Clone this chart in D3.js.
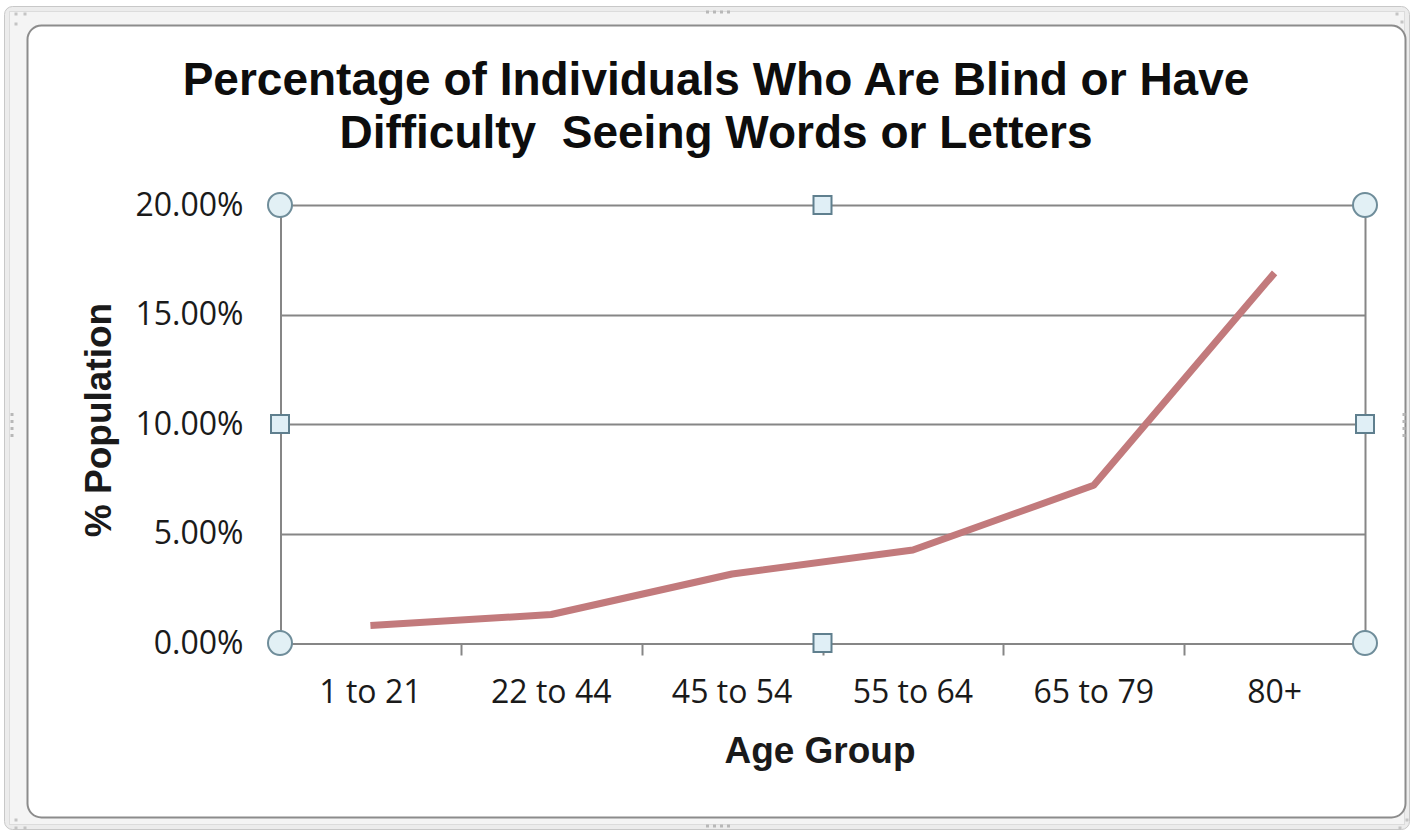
<!DOCTYPE html>
<html>
<head>
<meta charset="utf-8">
<script src="https://cdn.jsdelivr.net/npm/d3@7"></script>
<style>
  html, body { margin: 0; padding: 0; background: #ffffff; }
  svg { display: block; }
</style>
</head>
<body>
<svg id="chart" width="1413" height="834"></svg>
<script>
// Age groups and share of population that is blind or has difficulty seeing
const categories = ["1 to 21", "22 to 44", "45 to 54", "55 to 64", "65 to 79", "80+"];
const values = [0.008, 0.013, 0.0315, 0.0425, 0.072, 0.169];
const yTicks = [0, 0.05, 0.10, 0.15, 0.20];
const titleLines = ["Percentage of Individuals Who Are Blind or Have", "Difficulty  Seeing Words or Letters"];
const xTitle = "Age Group";
const yTitle = "% Population";

const W = 1413, H = 834;
const plot = { left: 280, right: 1365, top: 205, bottom: 643 };

const svg = d3.select("#chart");

// Outer object frame (selection border around the chart object)
svg.append("rect")
  .attr("x", 4.5).attr("y", 6.5).attr("width", W - 8).attr("height", H - 11)
  .attr("rx", 8)
  .attr("fill", "#ececec").attr("stroke", "#c8c8c8").attr("stroke-width", 1);
svg.append("rect")
  .attr("x", 9.5).attr("y", 11.5).attr("width", W - 18).attr("height", H - 21)
  .attr("fill", "#f4f4f4").attr("stroke", "#dcdcdc").attr("stroke-width", 1);

// Chart area with rounded border
svg.append("rect")
  .attr("x", 27.5).attr("y", 25.5).attr("width", 1378).attr("height", 792)
  .attr("rx", 14)
  .attr("fill", "#ffffff").attr("stroke", "#8c8c8c").attr("stroke-width", 2);

// Grip dots on the outer frame
function grip(cx, cy, horizontal) {
  const g = svg.append("g").attr("fill", "#b8b8b8");
  for (let i = 0; i < 4; i++) {
    g.append("rect")
      .attr("x", horizontal ? cx - 12 + i * 7 : cx - 1.5)
      .attr("y", horizontal ? cy - 1.5 : cy - 12 + i * 7)
      .attr("width", 3).attr("height", 3);
  }
}
grip(718, 12, true);
grip(718, 826, true);
grip(12, 425, false);
grip(1404, 425, false);
[[16, 14], [16, 24], [25, 14], [16, 820], [16, 828], [25, 828], [1397, 14], [1402, 22], [1400, 828], [1407, 820]]
  .forEach(([x, y]) => svg.append("rect").attr("x", x - 1.5).attr("y", y - 1.5)
    .attr("width", 3).attr("height", 3).attr("fill", "#c4c4c4"));

// Scales
const x = d3.scaleBand().domain(categories).range([plot.left, plot.right]).padding(0);
const y = d3.scaleLinear().domain([0, 0.20]).range([plot.bottom, plot.top]);

// Horizontal gridlines
svg.append("g")
  .selectAll("line")
  .data(yTicks.slice(1))
  .join("line")
  .attr("x1", plot.left).attr("x2", plot.right)
  .attr("y1", d => Math.round(y(d)) + 0.5).attr("y2", d => Math.round(y(d)) + 0.5)
  .attr("stroke", "#868686").attr("stroke-width", 2);

// Right edge of plot area
svg.append("line")
  .attr("x1", plot.right + 0.5).attr("x2", plot.right + 0.5)
  .attr("y1", plot.top).attr("y2", plot.bottom)
  .attr("stroke", "#868686").attr("stroke-width", 2);

const labelFont = "'Open Sans', 'Noto Sans', sans-serif";

// Y axis
const yAxis = d3.axisLeft(y)
  .tickValues(yTicks)
  .tickFormat(d3.format(".2%"))
  .tickSize(0)
  .tickPadding(37);
const yg = svg.append("g")
  .attr("transform", `translate(${plot.left + 0.5},0)`)
  .call(yAxis);
yg.select(".domain").attr("stroke", "#868686").attr("stroke-width", 2);
yg.selectAll("text")
  .attr("font-family", labelFont)
  .attr("font-size", 32)
  .attr("fill", "#1a1a1a");

// X axis with tick marks between categories
const xAxis = d3.axisBottom(x).tickSize(0).tickPadding(37);
const xg = svg.append("g")
  .attr("transform", `translate(0,${plot.bottom + 0.5})`)
  .call(xAxis);
xg.select(".domain").attr("stroke", "#868686").attr("stroke-width", 2);
xg.selectAll("text")
  .attr("font-family", labelFont)
  .attr("font-size", 32)
  .attr("fill", "#1a1a1a");
xg.selectAll(".tick line").remove();
xg.append("g")
  .selectAll("line")
  .data(categories.slice(1))
  .join("line")
  .attr("x1", d => Math.round(x(d)) + 0.5).attr("x2", d => Math.round(x(d)) + 0.5)
  .attr("y1", 0).attr("y2", 12)
  .attr("stroke", "#868686").attr("stroke-width", 2);

// Data line
const line = d3.line()
  .x(d => x(d.cat) + x.bandwidth() / 2)
  .y(d => y(d.val));
svg.append("path")
  .datum(categories.map((c, i) => ({ cat: c, val: values[i] })))
  .attr("d", line)
  .attr("fill", "none")
  .attr("stroke", "#c27a7c")
  .attr("stroke-width", 7)
  .attr("stroke-linejoin", "round");

// Plot-area selection handles
const midX = (plot.left + plot.right) / 2;
const midY = (plot.top + plot.bottom) / 2;
[[plot.left, plot.top], [plot.right, plot.top], [plot.left, plot.bottom], [plot.right, plot.bottom]]
  .forEach(([cx, cy]) => svg.append("circle")
    .attr("cx", cx).attr("cy", cy).attr("r", 12)
    .attr("fill", "#e2f0f5").attr("stroke", "#6f8d9a").attr("stroke-width", 2));
[[midX, plot.top], [midX, plot.bottom], [plot.left, midY], [plot.right, midY]]
  .forEach(([cx, cy]) => svg.append("rect")
    .attr("x", cx - 9).attr("y", cy - 9).attr("width", 18).attr("height", 18)
    .attr("fill", "#e0eff6").attr("stroke", "#5f7f8e").attr("stroke-width", 2));

// Title
const title = svg.append("text")
  .attr("text-anchor", "middle")
  .attr("font-family", "'Liberation Sans', Arial, sans-serif")
  .attr("font-weight", "bold")
  .attr("font-size", 46)
  .attr("fill", "#0d0d0d");
titleLines.forEach((t, i) => title.append("tspan")
  .attr("x", 716).attr("y", 95 + i * 53)
  .attr("xml:space", "preserve")
  .style("white-space", "pre")
  .text(t));

// Axis titles
svg.append("text")
  .attr("x", 820).attr("y", 763)
  .attr("text-anchor", "middle")
  .attr("font-family", "'Liberation Sans', Arial, sans-serif")
  .attr("font-weight", "bold")
  .attr("font-size", 37)
  .attr("fill", "#1a1a1a")
  .text(xTitle);

svg.append("text")
  .attr("transform", `translate(111,420) rotate(-90)`)
  .attr("text-anchor", "middle")
  .attr("font-family", "'Liberation Sans', Arial, sans-serif")
  .attr("font-weight", "bold")
  .attr("font-size", 37)
  .attr("fill", "#1a1a1a")
  .text(yTitle);
</script>
</body>
</html>
